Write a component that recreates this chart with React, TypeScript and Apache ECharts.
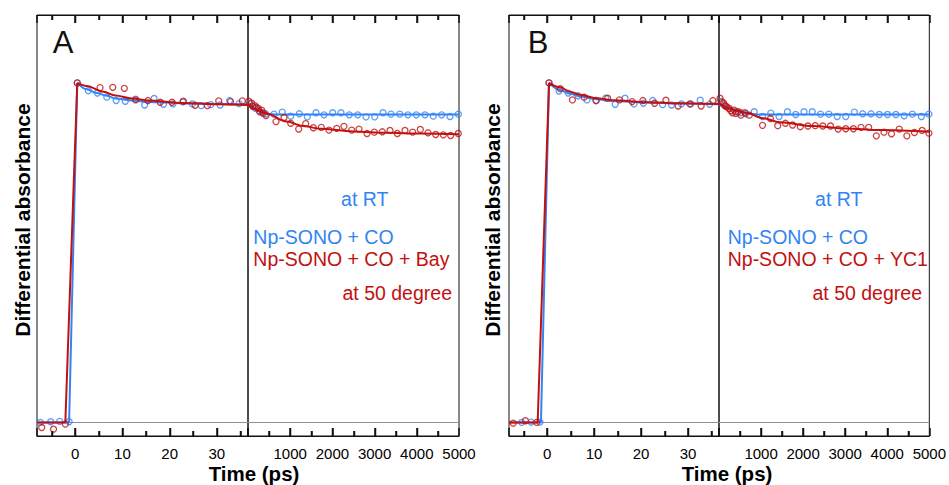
import React, { useEffect, useRef } from "react";
import * as echarts from "echarts";

// ---------- axis ranges & ticks ----------
const leftRange = [-8.1, 36.6];
const rightRange = [0, 5000];
const yRange = [-0.04, 1.2];
const leftMajorTicks = [0, 10, 20, 30];
const leftMinorTicks = [-5, 5, 15, 25, 35];
const rightMajorTicks = [1000, 2000, 3000, 4000];
const rightMinorTicks = [500, 1500, 2500, 3500, 4500];
const xTitle = "Time (ps)";
const yTitle = "Differential absorbance";

// ---------- Panel A data ----------
const blueLeftA = [[-7.4, 0], [-5.2, 0.002], [-3.3, 0.003], [-1.3, 0.002], [0.43, 1.0], [2.77, 0.977], [4.68, 0.97], [6.68, 0.958], [8.66, 0.948], [10.6, 0.946], [12.8, 0.952], [14.7, 0.935], [16.7, 0.954], [18.7, 0.937], [20.7, 0.938], [22.8, 0.944], [24.8, 0.938], [26.7, 0.933], [28.7, 0.936], [30.7, 0.935], [32.7, 0.948], [34.7, 0.939]];
const redLeftA = [[-7.1, -0.015], [-4.6, -0.02], [-2.1, -0.005], [0.43, 1.0], [5.26, 0.986], [7.95, 0.987], [10.4, 0.984], [12.8, 0.95], [15.4, 0.948], [18.0, 0.943], [20.5, 0.943], [22.9, 0.946], [25.4, 0.934], [28.0, 0.933], [30.4, 0.947], [32.9, 0.945], [35.4, 0.947]];
const blueRightA = [[40, 0.94], [110, 0.932], [180, 0.925], [260, 0.918], [340, 0.912], [420, 0.909], [616, 0.908], [813, 0.914], [1012, 0.902], [1216, 0.909], [1405, 0.9], [1611, 0.912], [1801, 0.906], [2007, 0.912], [2204, 0.912], [2401, 0.906], [2600, 0.906], [2796, 0.9], [3002, 0.9], [3199, 0.912], [3389, 0.908], [3595, 0.908], [3791, 0.906], [3988, 0.906], [4194, 0.906], [4391, 0.902], [4590, 0.906], [4787, 0.901], [4985, 0.908]];
const redRightA = [[20, 0.946], [87, 0.94], [120, 0.93], [166, 0.933], [200, 0.928], [244, 0.925], [280, 0.915], [324, 0.92], [363, 0.911], [427, 0.904], [664, 0.886], [853, 0.898], [1012, 0.881], [1201, 0.864], [1367, 0.88], [1548, 0.868], [1737, 0.869], [1919, 0.861], [2102, 0.866], [2275, 0.872], [2457, 0.861], [2630, 0.864], [2820, 0.851], [2993, 0.855], [3183, 0.856], [3365, 0.86], [3538, 0.851], [3720, 0.86], [3902, 0.855], [4083, 0.863], [4265, 0.853], [4448, 0.848], [4628, 0.847], [4803, 0.845], [4983, 0.851]];
const blueRiseA = [[-8.1, 0], [-1.3, 0], [0.43, 1.0]];
const redRiseA = [[-8.1, 0], [-2.1, 0], [0.43, 1.0]];
const blueFitLeftA = [[0.43, 1.0], [2.42, 0.981], [4.55, 0.97], [6.68, 0.962], [8.5, 0.954], [12.06, 0.948], [15.6, 0.944], [22.7, 0.94], [29.8, 0.938], [36.6, 0.937]];
const redFitLeftA = [[0.43, 1.0], [2.42, 0.991], [5.97, 0.974], [8.5, 0.963], [12.06, 0.954], [15.6, 0.948], [22.7, 0.941], [29.8, 0.937], [36.6, 0.935]];
const blueFitRightA = [[0, 0.937], [100, 0.93], [200, 0.921], [300, 0.914], [443, 0.909], [700, 0.907], [5000, 0.907]];
const redFitRightA = [[0, 0.935], [200, 0.922], [443, 0.909], [915, 0.886], [1311, 0.873], [1706, 0.865], [2496, 0.857], [3287, 0.853], [4076, 0.851], [5000, 0.849]];

// ---------- Panel B data ----------
const blueLeftB = [[-5.4, 0.0], [-3.4, 0.001], [-1.5, 0.001], [0.42, 1.0], [2.55, 0.976], [4.5, 0.97], [6.6, 0.962], [8.5, 0.95], [10.5, 0.948], [12.5, 0.955], [14.5, 0.937], [16.6, 0.955], [18.5, 0.938], [20.5, 0.94], [22.5, 0.948], [24.6, 0.936], [26.5, 0.935], [28.6, 0.938], [30.6, 0.938], [32.6, 0.949], [34.6, 0.937]];
const redLeftB = [[-7.2, -0.002], [-4.6, 0.005], [-2.2, 0.0], [0.42, 1.0], [2.8, 0.983], [5.4, 0.95], [7.9, 0.958], [10.4, 0.948], [12.9, 0.955], [15.4, 0.95], [18.1, 0.945], [20.4, 0.948], [22.9, 0.94], [25.3, 0.949], [27.9, 0.932], [30.4, 0.938], [32.8, 0.932], [35.3, 0.948]];
const blueRightB = [[20, 0.945], [120, 0.935], [250, 0.925], [400, 0.915], [520, 0.912], [640, 0.909], [836, 0.915], [1035, 0.901], [1232, 0.911], [1428, 0.901], [1627, 0.915], [1823, 0.907], [2020, 0.915], [2218, 0.915], [2414, 0.908], [2611, 0.908], [2810, 0.901], [3013, 0.901], [3219, 0.914], [3415, 0.909], [3614, 0.909], [3811, 0.907], [4007, 0.907], [4205, 0.907], [4402, 0.903], [4598, 0.908], [4811, 0.901], [4990, 0.908]];
const redRightB = [[24, 0.955], [70, 0.945], [110, 0.94], [150, 0.932], [180, 0.93], [230, 0.925], [280, 0.918], [320, 0.912], [360, 0.92], [400, 0.91], [460, 0.915], [520, 0.905], [616, 0.912], [720, 0.905], [1035, 0.875], [1224, 0.895], [1396, 0.874], [1578, 0.881], [1751, 0.876], [1933, 0.871], [2114, 0.873], [2288, 0.874], [2469, 0.873], [2651, 0.873], [2833, 0.864], [3013, 0.865], [3195, 0.865], [3377, 0.869], [3558, 0.869], [3740, 0.844], [3922, 0.855], [4102, 0.85], [4284, 0.864], [4466, 0.844], [4646, 0.854], [4828, 0.86], [4990, 0.852]];
const blueRiseB = [[-8.1, 0], [-1.3, 0], [0.42, 1.0]];
const redRiseB = [[-8.1, 0], [-2.0, 0], [0.42, 1.0]];
const blueFitLeftB = [[0.42, 1.0], [2.76, 0.979], [4.88, 0.968], [7.0, 0.96], [10.5, 0.952], [14.1, 0.947], [21.2, 0.942], [28.2, 0.939], [36.6, 0.937]];
const redFitLeftB = [[0.42, 1.0], [2.76, 0.987], [4.88, 0.974], [7.0, 0.965], [10.5, 0.955], [14.1, 0.949], [21.2, 0.943], [28.2, 0.94], [36.6, 0.938]];
const blueFitRightB = [[0, 0.937], [200, 0.928], [400, 0.917], [655, 0.909], [1000, 0.907], [5000, 0.907]];
const redFitRightB = [[0, 0.938], [340, 0.922], [655, 0.912], [1049, 0.896], [1444, 0.884], [2233, 0.873], [3022, 0.866], [3811, 0.861], [5000, 0.856]];

// ---------- annotation texts ----------
const panelLabels = ["A", "B"];
const blueTexts = ["at RT", "Np-SONO + CO"];
const redTextsA = ["Np-SONO + CO + Bay", "at 50 degree"];
const redTextsB = ["Np-SONO + CO + YC1", "at 50 degree"];

const BLUE = "#3383f5";
const RED = "#c21010";
const FONT = "'Liberation Sans', Arial, Helvetica, sans-serif";
const AXC = "#111";

const grids = [
  { left: 37, top: 15, width: 211, height: 421 },
  { left: 248, top: 15, width: 211, height: 421 },
  { left: 509, top: 15, width: 210, height: 421 },
  { left: 719, top: 15, width: 213, height: 421 },
];

function xAxisPair(gridIndex: number, isLeft: boolean) {
  const mk = (position: string, labels: boolean): any => ({
    gridIndex,
    type: "value",
    position,
    min: isLeft ? leftRange[0] : rightRange[0],
    max: isLeft ? leftRange[1] : rightRange[1],
    ...(isLeft ? { splitNumber: 5 } : { interval: 1000 }),
    axisLine: { show: true, onZero: false, lineStyle: { color: AXC, width: 1 } },
    axisTick: { show: true, inside: true, length: 8, lineStyle: { color: AXC, width: 1.5 } },
    minorTick: { show: true, splitNumber: 2, length: 5, lineStyle: { color: AXC, width: 1.5 } },
    splitLine: { show: false },
    minorSplitLine: { show: false },
    axisLabel: labels
      ? {
          show: true,
          showMinLabel: false,
          showMaxLabel: !isLeft,
          fontSize: 15,
          color: "#000",
          fontFamily: FONT,
          margin: 10,
          formatter: (v: number) => String(v),
        }
      : { show: false },
  });
  return [mk("bottom", true), mk("top", false)];
}

function lineS(data: any, color: string, g: number, smooth: boolean, z: number) {
  return {
    type: "line",
    data,
    xAxisIndex: 2 * g,
    yAxisIndex: g,
    symbol: "none",
    showSymbol: false,
    smooth: smooth ? 0.35 : false,
    smoothMonotone: "x",
    lineStyle: { color, width: 2 },
    z,
    silent: true,
  };
}

function scatterS(data: any, color: string, g: number, z: number, zeroLine: boolean) {
  const s: any = {
    type: "scatter",
    data,
    xAxisIndex: 2 * g,
    yAxisIndex: g,
    symbol: "circle",
    symbolSize: 6,
    itemStyle: { color: "rgba(0,0,0,0)", borderColor: color, borderWidth: 1.3 },
    z,
    silent: true,
  };
  if (zeroLine) {
    s.markLine = {
      silent: true,
      symbol: "none",
      label: { show: false },
      lineStyle: { color: "#8f8f8f", type: "solid", width: 1.2 },
      data: [{ yAxis: 0 }],
      z: 1,
    };
  }
  return s;
}

function panelSeries(gL: number, gR: number, d: any) {
  return [
    lineS(d.blueRise, BLUE, gL, false, 3),
    lineS(d.blueFitL, BLUE, gL, true, 3),
    lineS(d.blueFitR, BLUE, gR, true, 3),
    scatterS(d.blueL, BLUE, gL, 4, true),
    scatterS(d.blueR, BLUE, gR, 4, true),
    lineS(d.redRise, RED, gL, false, 5),
    lineS(d.redFitL, RED, gL, true, 5),
    lineS(d.redFitR, RED, gR, true, 5),
    scatterS(d.redL, RED, gL, 6, false),
    scatterS(d.redR, RED, gR, 6, false),
  ];
}

function txt(text: string, x: number, y: number, color: string, size: number, align: string, weight = "normal", rotation = 0) {
  return {
    type: "text",
    x,
    y,
    rotation,
    z: 100,
    style: {
      text,
      fill: color,
      font: `${weight} ${size}px ${FONT}`,
      textAlign: align,
      textVerticalAlign: "middle",
    },
  };
}

export default function App() {
  const ref = useRef<HTMLDivElement>(null);
  useEffect(() => {
    if (!ref.current) return;
    const chart = echarts.init(ref.current, null, { renderer: "svg" });
    const xAxis = [
      ...xAxisPair(0, true),
      ...xAxisPair(1, false),
      ...xAxisPair(2, true),
      ...xAxisPair(3, false),
    ];
    const yAxis = [0, 1, 2, 3].map((g) => ({
      gridIndex: g,
      type: "value",
      min: yRange[0],
      max: yRange[1],
      show: false,
    }));
    const series = [
      ...panelSeries(0, 1, {
        blueRise: blueRiseA, blueFitL: blueFitLeftA, blueFitR: blueFitRightA, blueL: blueLeftA, blueR: blueRightA,
        redRise: redRiseA, redFitL: redFitLeftA, redFitR: redFitRightA, redL: redLeftA, redR: redRightA,
      }),
      ...panelSeries(2, 3, {
        blueRise: blueRiseB, blueFitL: blueFitLeftB, blueFitR: blueFitRightB, blueL: blueLeftB, blueR: blueRightB,
        redRise: redRiseB, redFitL: redFitLeftB, redFitR: redFitRightB, redL: redLeftB, redR: redRightB,
      }),
    ];
    const textGraphic = [
      txt(panelLabels[0], 63, 42, "#111", 31, "center"),
      txt(panelLabels[1], 538, 42, "#111", 31, "center"),
      txt(yTitle, 22.5, 220, "#000", 21, "center", "bold", Math.PI / 2),
      txt(yTitle, 492.5, 220, "#000", 21, "center", "bold", Math.PI / 2),
      txt(xTitle, 254, 473, "#000", 20.5, "center", "bold"),
      txt(xTitle, 727, 473, "#000", 20.5, "center", "bold"),
      txt(blueTexts[0], 364.7, 198.5, BLUE, 19.5, "center"),
      txt(blueTexts[1], 253.3, 236.5, BLUE, 19.5, "left"),
      txt(redTextsA[0], 253.3, 258.5, RED, 19.5, "left"),
      txt(redTextsA[1], 452, 292.5, RED, 19.5, "right"),
      txt(blueTexts[0], 838.7, 198.5, BLUE, 19.5, "center"),
      txt(blueTexts[1], 727.7, 236.5, BLUE, 19.5, "left"),
      txt(redTextsB[0], 727.7, 258.5, RED, 19.5, "left"),
      txt(redTextsB[1], 922, 292.5, RED, 19.5, "right"),
    ];
    chart.setOption({
      animation: false,
      grid: grids.map((g) => ({
        ...g,
        show: true,
        borderColor: AXC,
        borderWidth: 1,
      })),
      xAxis,
      yAxis,
      series,
      graphic: textGraphic,
    });

    // inside tick marks, positioned through the axes' own scales
    const tickEls: any[] = [];
    const addTicks = (values: number[], g: number, len: number) => {
      values.forEach((v) => {
        const finder = { xAxisIndex: 2 * g, yAxisIndex: g };
        const pb = chart.convertToPixel(finder as any, [v, yRange[0]]) as number[];
        const pt = chart.convertToPixel(finder as any, [v, yRange[1]]) as number[];
        if (!pb || !pt) return;
        const x = Math.round(pb[0]) + 0.5;
        tickEls.push({
          type: "line",
          z: 90,
          silent: true,
          shape: { x1: x, y1: pb[1], x2: x, y2: pb[1] - len },
          style: { stroke: AXC, lineWidth: 1.5 },
        });
        tickEls.push({
          type: "line",
          z: 90,
          silent: true,
          shape: { x1: x, y1: pt[1], x2: x, y2: pt[1] + len },
          style: { stroke: AXC, lineWidth: 1.5 },
        });
      });
    };
    [0, 2].forEach((g) => {
      addTicks(leftMajorTicks, g, 8);
      addTicks(leftMinorTicks, g, 5);
    });
    [1, 3].forEach((g) => {
      addTicks(rightMajorTicks, g, 8);
      addTicks(rightMinorTicks, g, 5);
    });
    chart.setOption({ graphic: [...textGraphic, ...tickEls] });

    return () => chart.dispose();
  }, []);
  return (
    <div
      ref={ref}
      style={{ position: "absolute", left: 0, top: 0, width: 949, height: 485, background: "#fff" }}
    />
  );
}
